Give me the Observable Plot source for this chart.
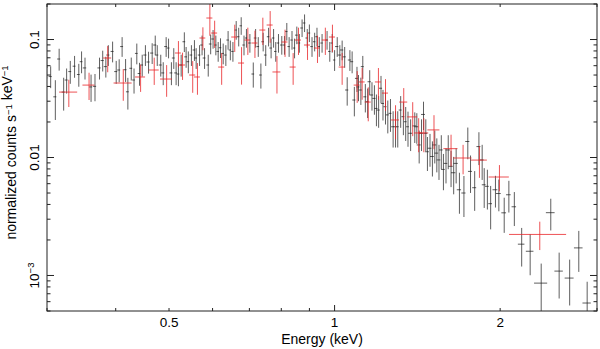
<!DOCTYPE html>
<html><head><meta charset="utf-8">
<script src="https://cdn.jsdelivr.net/npm/d3@7"></script>
<script src="https://cdn.jsdelivr.net/npm/@observablehq/plot@0.6"></script>
<style>
html,body{margin:0;padding:0;background:#fff;}
#chart{width:600px;height:349px;overflow:hidden;}
</style></head><body><div id="chart"></div>
<script>
// Each row: [energy keV, energy half-width keV, normalized counts s^-1 keV^-1, fractional error]
const blackData = [
[0.299,0.002,0.059,0.21],[0.304,0.002,0.049,0.21],[0.310,0.002,0.033,0.37],[0.315,0.002,0.069,0.21],
[0.321,0.002,0.0362,0.31],[0.325,0.002,0.0458,0.24],[0.330,0.002,0.054,0.22],[0.336,0.002,0.060,0.21],
[0.342,0.002,0.051,0.22],[0.346,0.002,0.0655,0.21],[0.351,0.0025,0.058,0.21],[0.360,0.0025,0.040,0.26],
[0.366,0.0025,0.0405,0.26],[0.373,0.0025,0.058,0.21],[0.378,0.0025,0.067,0.2],[0.383,0.0025,0.0595,0.2],
[0.387,0.0025,0.0746,0.2],[0.394,0.0025,0.080,0.2],[0.400,0.0025,0.054,0.22],[0.405,0.0025,0.0557,0.22],
[0.410,0.0025,0.088,0.19],[0.416,0.0025,0.056,0.22],[0.420,0.0025,0.0364,0.3],[0.426,0.0025,0.0576,0.22],
[0.431,0.0025,0.0458,0.24],[0.436,0.0025,0.077,0.2],[0.441,0.0025,0.052,0.22],[0.446,0.0025,0.0614,0.21],
[0.452,0.003,0.0746,0.2],[0.458,0.003,0.0651,0.21],[0.465,0.003,0.0775,0.2],[0.471,0.003,0.0907,0.19],
[0.475,0.003,0.0746,0.2],[0.482,0.003,0.0614,0.21],[0.487,0.003,0.0526,0.22],[0.493,0.003,0.088,0.19],
[0.498,0.003,0.0855,0.19],[0.504,0.003,0.0526,0.22],[0.509,0.003,0.0704,0.2],[0.514,0.003,0.0526,0.22],
[0.519,0.003,0.0515,0.22],[0.525,0.003,0.0614,0.21],[0.532,0.003,0.0967,0.19],[0.536,0.003,0.072,0.2],
[0.541,0.003,0.0655,0.21],[0.548,0.003,0.0746,0.2],[0.555,0.003,0.0823,0.2],[0.559,0.003,0.0704,0.2],
[0.567,0.003,0.0746,0.2],[0.573,0.0033,0.0907,0.19],[0.579,0.0033,0.0704,0.2],[0.588,0.0033,0.0614,0.21],
[0.594,0.0033,0.0925,0.19],[0.600,0.0033,0.102,0.18],[0.607,0.0033,0.0907,0.19],[0.613,0.0033,0.080,0.19],
[0.619,0.0033,0.086,0.19],[0.626,0.0033,0.077,0.2],[0.633,0.0033,0.0746,0.2],[0.639,0.0033,0.100,0.18],
[0.645,0.0033,0.0823,0.19],[0.652,0.0033,0.080,0.19],[0.661,0.0033,0.1215,0.18],[0.668,0.0033,0.1066,0.18],
[0.675,0.0033,0.132,0.17],[0.683,0.0033,0.0907,0.19],[0.690,0.0033,0.104,0.18],[0.700,0.004,0.0943,0.18],
[0.710,0.004,0.0515,0.24],[0.717,0.004,0.104,0.18],[0.725,0.004,0.088,0.19],[0.733,0.004,0.0505,0.24],
[0.740,0.004,0.0967,0.18],[0.748,0.004,0.0746,0.2],[0.757,0.004,0.1066,0.18],[0.765,0.004,0.0855,0.19],
[0.773,0.004,0.104,0.18],[0.780,0.004,0.080,0.19],[0.789,0.004,0.0943,0.18],[0.800,0.004,0.0907,0.18],
[0.809,0.004,0.0907,0.18],[0.817,0.004,0.118,0.17],[0.825,0.004,0.088,0.19],[0.835,0.004,0.100,0.18],
[0.844,0.004,0.0855,0.19],[0.852,0.0048,0.110,0.17],[0.861,0.0048,0.0943,0.18],[0.871,0.0048,0.1264,0.17],
[0.880,0.0048,0.1394,0.17],[0.890,0.0048,0.104,0.18],[0.898,0.0048,0.1146,0.17],[0.908,0.0048,0.088,0.19],
[0.918,0.0048,0.0967,0.18],[0.927,0.0048,0.1066,0.18],[0.936,0.0048,0.088,0.19],[0.947,0.0048,0.0943,0.18],
[0.967,0.0048,0.100,0.18],[0.978,0.0048,0.080,0.19],[0.988,0.0048,0.0943,0.18],[0.998,0.0048,0.0677,0.2],
[1.009,0.007,0.088,0.19],[1.020,0.007,0.0746,0.2],[1.030,0.007,0.0823,0.19],[1.041,0.007,0.072,0.2],
[1.052,0.007,0.0377,0.27],[1.064,0.007,0.0677,0.2],[1.074,0.007,0.0655,0.21],[1.084,0.007,0.031,0.28],
[1.096,0.007,0.0473,0.24],[1.103,0.007,0.040,0.25],[1.114,0.007,0.0377,0.26],[1.123,0.007,0.0595,0.22],
[1.135,0.007,0.033,0.27],[1.146,0.007,0.030,0.28],[1.156,0.008,0.0443,0.24],[1.167,0.008,0.0342,0.27],
[1.179,0.008,0.0320,0.28],[1.189,0.008,0.0263,0.3],[1.200,0.008,0.0255,0.3],[1.212,0.008,0.039,0.26],
[1.222,0.008,0.0290,0.29],[1.235,0.008,0.0272,0.3],[1.247,0.008,0.0232,0.31],[1.261,0.008,0.0239,0.31],
[1.275,0.008,0.0184,0.34],[1.288,0.008,0.0184,0.34],[1.300,0.008,0.0184,0.34],[1.316,0.008,0.0255,0.3],
[1.331,0.008,0.0224,0.31],[1.344,0.008,0.0203,0.32],[1.357,0.008,0.0184,0.33],[1.372,0.012,0.0162,0.3],
[1.396,0.012,0.0187,0.29],[1.408,0.012,0.0184,0.29],[1.422,0.012,0.0129,0.31],[1.436,0.012,0.0162,0.3],
[1.448,0.012,0.0234,0.27],[1.462,0.012,0.0162,0.3],[1.472,0.012,0.0113,0.32],[1.488,0.012,0.0121,0.31],
[1.503,0.012,0.0103,0.33],[1.518,0.012,0.0129,0.31],[1.531,0.012,0.0110,0.32],[1.545,0.012,0.00963,0.33],
[1.560,0.012,0.0117,0.32],[1.574,0.012,0.0080,0.34],[1.591,0.012,0.0090,0.33],[1.606,0.015,0.0117,0.32],
[1.625,0.015,0.0085,0.34],[1.643,0.015,0.0075,0.35],[1.660,0.015,0.0090,0.33],[1.683,0.015,0.00538,0.38],
[1.715,0.015,0.00505,0.38],[1.743,0.015,0.0138,0.3],[1.763,0.015,0.0077,0.35],[1.794,0.015,0.0056,0.37],
[1.826,0.015,0.0125,0.31],[1.851,0.015,0.00963,0.33],[1.867,0.015,0.00593,0.37],[1.892,0.015,0.00575,0.37],
[1.918,0.015,0.0041,0.4],[1.957,0.02,0.00538,0.3],[1.985,0.02,0.0050,0.3],[2.030,0.02,0.00343,0.33],
[2.070,0.02,0.00488,0.3],[2.118,0.02,0.00386,0.32],[2.184,0.03,0.00186,0.36],[2.263,0.036,0.00162,0.38],
[2.370,0.065,0.00087,0.45],[2.467,0.045,0.00344,0.3],[2.555,0.045,0.0011,0.42],[2.670,0.05,0.00096,0.42],
[2.774,0.05,0.00173,0.38],[2.873,0.05,0.00059,0.5]
];
const redData = [
[0.328,0.0124,0.0362,0.26],[0.357,0.009,0.0415,0.26],[0.386,0.0065,0.0704,0.25],[0.412,0.0156,0.0432,0.3],
[0.443,0.0093,0.0486,0.26],[0.469,0.0099,0.0557,0.26],[0.494,0.0124,0.0467,0.3],[0.519,0.0065,0.0776,0.25],
[0.528,0.0067,0.0614,0.26],[0.551,0.007,0.0505,0.3],[0.562,0.007,0.0486,0.3],[0.575,0.007,0.104,0.22],
[0.592,0.0075,0.1536,0.3],[0.604,0.0076,0.1146,0.26],[0.622,0.0078,0.0590,0.3],[0.657,0.0083,0.106,0.26],
[0.676,0.0085,0.0638,0.35],[0.694,0.0087,0.100,0.26],[0.715,0.009,0.0943,0.26],[0.739,0.0093,0.1215,0.26],
[0.762,0.0096,0.134,0.3],[0.784,0.013,0.0536,0.35],[0.811,0.010,0.0962,0.26],[0.839,0.0106,0.059,0.3],
[0.858,0.0108,0.100,0.26],[0.891,0.0112,0.0907,0.26],[0.929,0.0117,0.0855,0.26],[0.960,0.012,0.100,0.26],
[0.989,0.0125,0.106,0.26],[1.030,0.013,0.059,0.3],[1.097,0.0138,0.0415,0.3],[1.120,0.0141,0.0441,0.3],
[1.149,0.0145,0.0298,0.32],[1.199,0.0151,0.0441,0.3],[1.235,0.0156,0.0355,0.3],[1.288,0.0216,0.021,0.32],
[1.333,0.0224,0.0298,0.3],[1.384,0.029,0.0223,0.32],[1.419,0.024,0.0163,0.32],[1.450,0.030,0.0163,0.32],
[1.513,0.038,0.0173,0.32],[1.625,0.048,0.012,0.3],[1.709,0.065,0.0100,0.28],[1.830,0.062,0.0096,0.3],
[1.990,0.084,0.0069,0.25],[2.356,0.28,0.00225,0.27]
];
const xDomain = [0.3, 3];
const yDomain = [5e-4, 0.2];
const xTicksMajor = [1];
const xTicksMinor = [0.3, 0.4, 0.5, 0.6, 0.7, 0.8, 0.9, 2, 3];
const xTickLabels = ["0.5", "1", "2"];
const yTicksMajor = [0.001, 0.01, 0.1];
const yTicksMinor = [5e-4, 6e-4, 7e-4, 8e-4, 9e-4, 0.002, 0.003, 0.004, 0.005, 0.006, 0.007, 0.008, 0.009,
  0.02, 0.03, 0.04, 0.05, 0.06, 0.07, 0.08, 0.09, 0.2];
const yTickLabels = [["0.1", ""], ["0.01", ""], ["10", "−3"]];
const yTickLabelValues = [0.1, 0.01, 0.001];
const xTitle = "Energy (keV)";
const yTitleParts = [["normalized counts s", "−1"], [" keV", "−1"]];

const FONT = "'Liberation Sans', Arial, Helvetica, sans-serif";

function rows(data) {
  return data.map(([E, dE, C, rel]) => ({E, dE, C, lo: Math.max(C * (1 - rel), 1e-6), hi: C * (1 + rel)}));
}
const black = rows(blackData), red = rows(redData);

function errorMarks(d, color, w) {
  return [
    Plot.ruleX(d, {x: "E", y1: "lo", y2: "hi", stroke: color, strokeWidth: w, clip: true}),
    Plot.ruleY(d, {y: "C", x1: r => r.E - r.dE, x2: r => r.E + r.dE, stroke: color, strokeWidth: w, clip: true})
  ];
}

function axesMark(index, scales, values, dims) {
  const x = scales.x, y = scales.y;
  const L = dims.marginLeft, R = dims.width - dims.marginRight;
  const T = dims.marginTop, B = dims.height - dims.marginBottom;
  const g = d3.create("svg:g");
  const tk = g.append("g").attr("stroke", "#222").attr("stroke-width", 1).attr("fill", "none");
  tk.append("rect").attr("x", L).attr("y", T).attr("width", R - L).attr("height", B - T);
  const xt = (v, len) => {
    const px = x(v);
    tk.append("line").attr("x1", px).attr("x2", px).attr("y1", B).attr("y2", B - len);
    tk.append("line").attr("x1", px).attr("x2", px).attr("y1", T).attr("y2", T + len);
  };
  const yt = (v, len) => {
    const py = y(v);
    tk.append("line").attr("y1", py).attr("y2", py).attr("x1", L).attr("x2", L + len);
    tk.append("line").attr("y1", py).attr("y2", py).attr("x1", R).attr("x2", R - len);
  };
  xTicksMajor.forEach(v => xt(v, 6));
  xTicksMinor.forEach(v => xt(v, 3));
  yTicksMajor.forEach(v => yt(v, 7));
  yTicksMinor.forEach(v => yt(v, 3.5));

  const tx = g.append("g").attr("fill", "#000").attr("font-family", FONT);
  xTickLabels.forEach(s => {
    tx.append("text").attr("x", x(+s)).attr("y", B + 16).attr("text-anchor", "middle")
      .attr("font-size", 13.5).text(s);
  });
  tx.append("text").attr("x", (L + R) / 2).attr("y", B + 33).attr("text-anchor", "middle")
    .attr("font-size", 14).text(xTitle);
  yTickLabels.forEach(([base, sup], i) => {
    const t = tx.append("text").attr("text-anchor", "middle").attr("font-size", 13.5)
      .attr("transform", `translate(${L - 8.5},${y(yTickLabelValues[i])}) rotate(-90)`);
    t.append("tspan").text(base);
    if (sup) t.append("tspan").attr("font-size", 9.5).attr("dy", -5).text(sup);
  });
  const yt2 = tx.append("text").attr("text-anchor", "middle").attr("font-size", 14)
    .attr("transform", `translate(16,${(T + B) / 2 - 5}) rotate(-90)`);
  yTitleParts.forEach(([base, sup]) => {
    yt2.append("tspan").attr("dy", 0).text(base);
    yt2.append("tspan").attr("font-size", 9.5).attr("dy", -4).text(sup);
    yt2.append("tspan").attr("dy", 4).text("");
  });
  return g.node();
}

const chart = Plot.plot({
  width: 600, height: 349,
  marginLeft: 47, marginRight: 3, marginTop: 4, marginBottom: 38,
  style: {fontFamily: FONT, background: "#fff"},
  x: {type: "log", domain: xDomain, axis: null},
  y: {type: "log", domain: yDomain, axis: null},
  marks: [
    ...errorMarks(black, "#1a1a1a", 0.7),
    ...errorMarks(red, "#e8262a", 0.8),
    axesMark
  ]
});
document.getElementById("chart").append(chart);
</script></body></html>
